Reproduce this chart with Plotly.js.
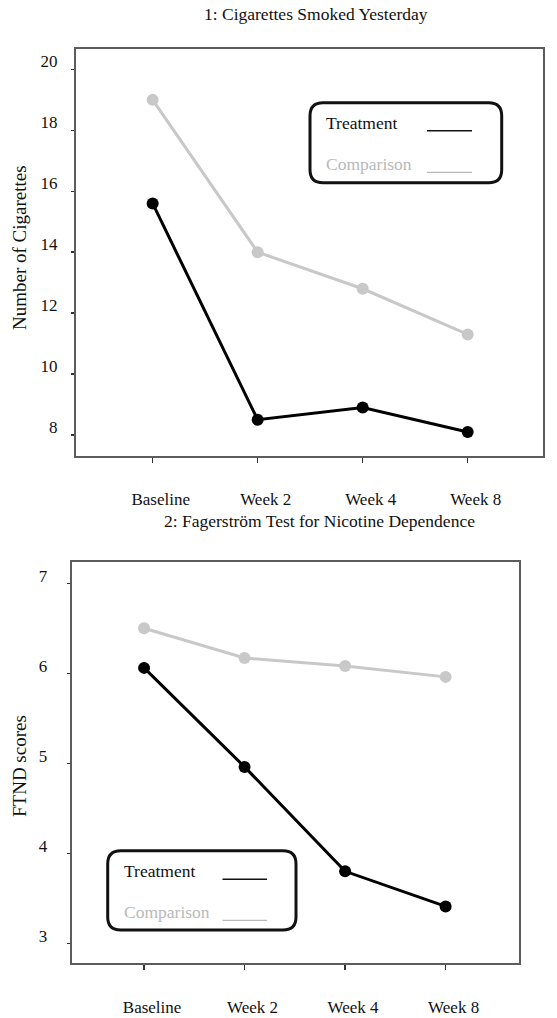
<!DOCTYPE html>
<html>
<head>
<meta charset="utf-8">
<script src="https://cdn.plot.ly/plotly-3.0.1.min.js"></script>
<style>html,body{margin:0;padding:0;background:#fff;}#chart{width:557px;height:1018px;}</style>
</head>
<body>
<div id="chart"></div>
<script>
// ---- data ----
const categories = ['Baseline', 'Week 2', 'Week 4', 'Week 8'];
const cigTreatment = [15.6, 8.5, 8.9, 8.1];
const cigComparison = [19.0, 14.0, 12.8, 11.3];
const ftndTreatment = [6.06, 4.96, 3.80, 3.41];
const ftndComparison = [6.50, 6.17, 6.08, 5.96];
const panelTitles = ['1: Cigarettes Smoked Yesterday', '2: Fagerstr\u00f6m Test for Nicotine Dependence'];
const yTitles = ['Number of Cigarettes', 'FTND scores'];
const seriesNames = ['Treatment', 'Comparison'];

// ---- styling ----
const W = 557, H = 1018;
const FONT = 'Liberation Serif, Times New Roman, serif';
const BLACK = '#000000';
const GREY = '#c8c8c8';
const GREYTXT = '#b9b9b9';
const FRAME = '#5c5c5c';
const px = x => x / W;
const py = y => 1 - y / H;

function series(xa, ya, yvals, color, name) {
  return {
    type: 'scatter', mode: 'lines+markers', name: name,
    x: categories, y: yvals, xaxis: xa, yaxis: ya,
    line: {color: color, width: 3},
    marker: {color: color, size: 12},
    showlegend: false, hoverinfo: 'skip'
  };
}

const data = [
  series('x', 'y', cigComparison, GREY, seriesNames[1]),
  series('x', 'y', cigTreatment, BLACK, seriesNames[0]),
  series('x2', 'y2', ftndComparison, GREY, seriesNames[1]),
  series('x2', 'y2', ftndTreatment, BLACK, seriesNames[0])
];

function xAxis(domain, anchor, range) {
  return {
    domain: domain, anchor: anchor, type: 'category', range: range,
    showline: true, mirror: true, linecolor: FRAME, linewidth: 2,
    ticks: 'outside', ticklen: 5, tickwidth: 1.5, tickcolor: '#333',
    showgrid: false, zeroline: false, fixedrange: true,
    tickfont: {family: FONT, size: 17, color: '#111'},
    ticklabelstandoff: 22, ticklabelshift: 8
  };
}
function yAxis(domain, anchor, range, dtick, shift, standoff) {
  return {
    domain: domain, anchor: anchor, range: range, dtick: dtick, tick0: 0,
    showline: true, mirror: true, linecolor: FRAME, linewidth: 2,
    ticks: 'outside', ticklen: 3, tickwidth: 1.5, tickcolor: '#333',
    showgrid: false, zeroline: false, fixedrange: true,
    tickfont: {family: FONT, size: 17, color: '#111'},
    ticklabelshift: shift, ticklabelstandoff: standoff
  };
}

const layout = {
  width: W, height: H,
  margin: {l: 0, r: 0, t: 0, b: 0},
  paper_bgcolor: '#ffffff', plot_bgcolor: '#ffffff',
  showlegend: false,
  font: {family: FONT, size: 17, color: '#111'},
  xaxis: xAxis([px(76), px(543.3)], 'y', [-0.73, 3.72]),
  yaxis: yAxis([py(456), py(49.3)], 'x', [7.31, 20.66], 2, -8, 10),
  xaxis2: xAxis([px(71.7), px(519)], 'y2', [-0.72, 3.73]),
  yaxis2: yAxis([py(963.3), py(562.3)], 'x2', [2.778, 7.233], 1, -7, 16),
  annotations: [],
  shapes: []
};

// titles
layout.annotations.push({text: panelTitles[0], xref: 'paper', yref: 'paper', x: px(316), y: py(13.5),
  xanchor: 'center', yanchor: 'middle', showarrow: false, font: {family: FONT, size: 17.5, color: '#111'}});
layout.annotations.push({text: panelTitles[1], xref: 'paper', yref: 'paper', x: px(319), y: py(521),
  xanchor: 'center', yanchor: 'middle', showarrow: false, font: {family: FONT, size: 17.5, color: '#111'}});
// y-axis titles
layout.annotations.push({text: yTitles[0], xref: 'paper', yref: 'paper', x: px(19), y: py(248),
  xanchor: 'center', yanchor: 'middle', textangle: -90, showarrow: false, font: {family: FONT, size: 19, color: '#111'}});
layout.annotations.push({text: yTitles[1], xref: 'paper', yref: 'paper', x: px(19), y: py(766),
  xanchor: 'center', yanchor: 'middle', textangle: -90, showarrow: false, font: {family: FONT, size: 19, color: '#111'}});

// custom legend boxes (text first, line sample after)
function roundedBox(x0, y0, x1, y1, r) {
  const rx = r / W, ry = r / H;
  const X0 = px(x0), X1 = px(x1), Y0 = py(y0), Y1 = py(y1);
  return 'M ' + (X0 + rx) + ',' + Y0 + ' L ' + (X1 - rx) + ',' + Y0 +
    ' Q ' + X1 + ',' + Y0 + ' ' + X1 + ',' + (Y0 - ry) +
    ' L ' + X1 + ',' + (Y1 + ry) +
    ' Q ' + X1 + ',' + Y1 + ' ' + (X1 - rx) + ',' + Y1 +
    ' L ' + (X0 + rx) + ',' + Y1 +
    ' Q ' + X0 + ',' + Y1 + ' ' + X0 + ',' + (Y1 + ry) +
    ' L ' + X0 + ',' + (Y0 - ry) +
    ' Q ' + X0 + ',' + Y0 + ' ' + (X0 + rx) + ',' + Y0 + ' Z';
}
function addLegend(bx0, by0, bx1, by1, tx, ty1, ty2, lx0, lx1, ly1, ly2) {
  layout.shapes.push({type: 'path', xref: 'paper', yref: 'paper', path: roundedBox(bx0, by0, bx1, by1, 13),
    line: {color: '#111', width: 3}, fillcolor: 'rgba(255,255,255,0)'});
  layout.annotations.push({text: seriesNames[0], xref: 'paper', yref: 'paper', x: px(tx), y: py(ty1),
    xanchor: 'left', yanchor: 'middle', showarrow: false, font: {family: FONT, size: 17.5, color: '#111'}});
  layout.annotations.push({text: seriesNames[1], xref: 'paper', yref: 'paper', x: px(tx), y: py(ty2),
    xanchor: 'left', yanchor: 'middle', showarrow: false, font: {family: FONT, size: 17.5, color: GREYTXT}});
  layout.shapes.push({type: 'line', xref: 'paper', yref: 'paper', x0: px(lx0), x1: px(lx1), y0: py(ly1), y1: py(ly1),
    line: {color: '#111', width: 1.5}});
  layout.shapes.push({type: 'line', xref: 'paper', yref: 'paper', x0: px(lx0), x1: px(lx1), y0: py(ly2), y1: py(ly2),
    line: {color: GREYTXT, width: 1.2}});
}
addLegend(310, 102.7, 501.7, 182.7, 324, 122.7, 164, 427, 472, 130.7, 172.3);
addLegend(107.7, 850.7, 296, 930, 121.5, 871, 911.7, 222.5, 267, 879.3, 920.3);

Plotly.newPlot('chart', data, layout, {displayModeBar: false, staticPlot: true});
</script>
</body>
</html>
